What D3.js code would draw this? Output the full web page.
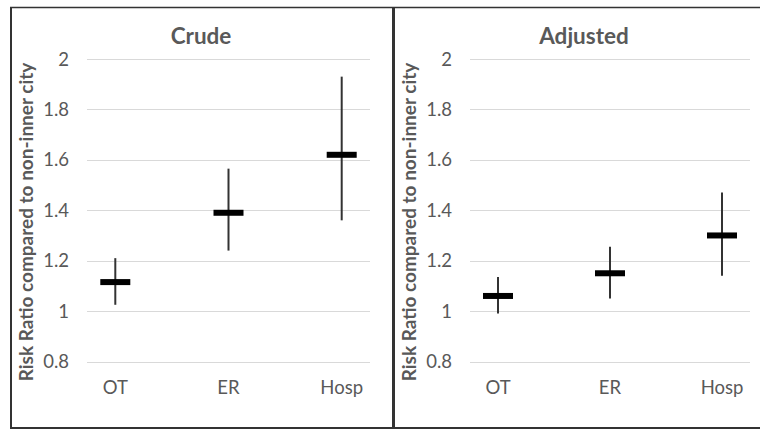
<!DOCTYPE html>
<meta charset="utf-8">
<style>
body { margin: 0; background: #fff; }
svg { display: block; font-family: Lato, "Open Sans", sans-serif; }
.grid line { stroke: #d9d9d9; stroke-width: 1px; }
.tick-label { fill: #595959; font-size: 18.5px; }
.panel-title { fill: #595959; font-size: 22.5px; font-weight: bold; }
.axis-title { fill: #595959; font-size: 19px; font-weight: bold; }
.whisker { stroke: #333; stroke-width: 2px; }
.mean { fill: #000; }
.frame { stroke: #333; fill: none; }
</style>
<svg width="760" height="429"></svg>
<script src="https://d3js.org/d3.v7.min.js"></script>
<script>

var categories = ["OT", "ER", "Hosp"];
var yTicks = [0.8, 1, 1.2, 1.4, 1.6, 1.8, 2];

var crudeMean = [1.115, 1.39, 1.62];
var crudeLow  = [1.025, 1.24, 1.36];
var crudeHigh = [1.21, 1.565, 1.93];

var adjMean = [1.06, 1.15, 1.30];
var adjLow  = [0.99, 1.05, 1.14];
var adjHigh = [1.135, 1.255, 1.47];

var svg = d3.select("svg");

var y = d3.scaleLinear()
    .domain([0.8, 2])
    .range([361.5, 59]);

function drawPanel(title, mean, low, high, left, x0, x1) {
  var g = svg.append("g");

  var x = d3.scalePoint()
      .domain(categories)
      .range([x0, x1])
      .padding(0.25);

  g.append("g").attr("class", "grid")
    .selectAll("line")
    .data(yTicks)
    .enter().append("line")
      .attr("x1", x0).attr("x2", x1)
      .attr("y1", function(d) { return Math.round(y(d)) + 0.5; })
      .attr("y2", function(d) { return Math.round(y(d)) + 0.5; });

  g.selectAll("text.ytick")
    .data(yTicks)
    .enter().append("text")
      .attr("class", "tick-label ytick")
      .attr("x", x0 - 18)
      .attr("y", function(d) { return y(d); })
      .attr("dy", "0.36em")
      .attr("text-anchor", "end")
      .text(function(d) { return d3.format("")(d); });

  g.selectAll("text.xtick")
    .data(categories)
    .enter().append("text")
      .attr("class", "tick-label xtick")
      .attr("x", function(d) { return x(d); })
      .attr("y", 394)
      .attr("text-anchor", "middle")
      .text(function(d) { return d; });

  g.append("text")
      .attr("class", "axis-title")
      .attr("transform", "translate(" + (x0 - 54) + ",222) rotate(-90)")
      .attr("text-anchor", "middle")
      .text("Risk Ratio compared to non-inner city");

  g.append("text")
      .attr("class", "panel-title")
      .attr("x", left + 191)
      .attr("y", 44)
      .attr("text-anchor", "middle")
      .text(title);

  categories.forEach(function(c, i) {
    g.append("line")
        .attr("class", "whisker")
        .attr("x1", x(c)).attr("x2", x(c))
        .attr("y1", y(low[i])).attr("y2", y(high[i]));
    g.append("rect")
        .attr("class", "mean")
        .attr("x", x(c) - 15)
        .attr("y", y(mean[i]) - 3)
        .attr("width", 30)
        .attr("height", 6);
  });
}

drawPanel("Crude", crudeMean, crudeLow, crudeHigh, 10, 87, 370);
drawPanel("Adjusted", adjMean, adjLow, adjHigh, 393, 470, 750);

// frames
svg.append("line").attr("class", "frame").attr("stroke-width", 1.5)
    .attr("x1", 10).attr("x2", 760).attr("y1", 7.5).attr("y2", 7.5);
svg.append("line").attr("class", "frame").attr("stroke-width", 2)
    .attr("x1", 10).attr("x2", 760).attr("y1", 428).attr("y2", 428);
svg.append("line").attr("class", "frame").attr("stroke-width", 2)
    .attr("x1", 11).attr("x2", 11).attr("y1", 7).attr("y2", 429);
svg.append("line").attr("class", "frame").attr("stroke", "#111").attr("stroke-width", 3)
    .attr("x1", 393.5).attr("x2", 393.5).attr("y1", 7).attr("y2", 429);

</script>
